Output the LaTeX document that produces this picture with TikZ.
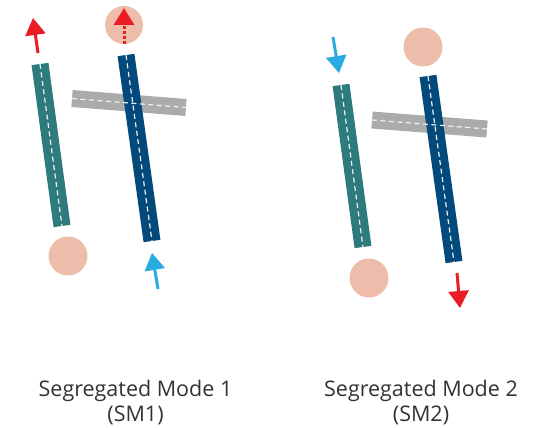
\documentclass[tikz,border=0pt]{standalone}
\usepackage{fontspec}
\setmainfont{Open Sans}
\usetikzlibrary{arrows.meta}

\definecolor{rwteal}{HTML}{2E7B7E}
\definecolor{rwblue}{HTML}{024A7B}
\definecolor{twgray}{HTML}{AAABAB}
\definecolor{spot}{HTML}{EDBCAA}
\definecolor{arrred}{HTML}{EC1C24}
\definecolor{arrblue}{HTML}{29ABE2}

\begin{document}
\begin{tikzpicture}[x=1pt, y=-1pt,
    strip/.style={line width=17pt},
    centre/.style={line width=1.2pt, white!88!gray, dash pattern=on 5pt off 3.5pt},
    spot/.style={fill=spot},
    move/.style={line width=3pt, -{Triangle[width=20pt,length=17pt]}},
    caption/.style={align=center, text=black!80, font=\fontsize{21.5}{25}\selectfont}]
  \useasboundingbox (0,0) rectangle (535,428);

  % Segregated Mode 1
  \draw[strip, twgray] (72,98.5) -- (186,107.5); % taxiway
  \draw[strip, rwteal] (40,64) -- (62,226); % runway one
  \draw[strip, rwblue] (126,55) -- (152,241); % runway two
  \draw[centre] (72,98.5) -- (186,107.5);
  \draw[centre] (40,64) -- (62,226);
  \draw[centre] (126,55) -- (152,241);
  \fill[spot] (124,25) circle (19pt);
  \fill[spot] (68,256) circle (19.5pt);
  \draw[move, arrred] (38,53) -- (33,18); % departure
  \draw[move, arrred, dash pattern=on 3pt off 2pt] (124,44) -- (124,8);
  \draw[move, arrblue] (158,289) -- (152,253); % arrival
  \node[caption] (sm1) at (135.5,403) {Segregated Mode 1\\(SM1)};

  % Segregated Mode 2
  \draw[strip, twgray] (372,120) -- (487,129); % taxiway
  \draw[strip, rwteal] (341,85) -- (363,247);
  \draw[strip, rwblue] (428,76) -- (454,262);
  \draw[centre] (372,120) -- (487,129);
  \draw[centre] (341,85) -- (363,247);
  \draw[centre] (428,76) -- (454,262);
  \fill[spot] (423,47) circle (19.5pt);
  \fill[spot] (369,278) circle (19.5pt);
  \draw[move, arrblue] (333,37) -- (339,73); % arrival
  \draw[move, arrred] (457,273) -- (460,308); % departure
  \node[caption] (sm2) at (421,403) {Segregated Mode 2\\(SM2)};
\end{tikzpicture}
\end{document}
